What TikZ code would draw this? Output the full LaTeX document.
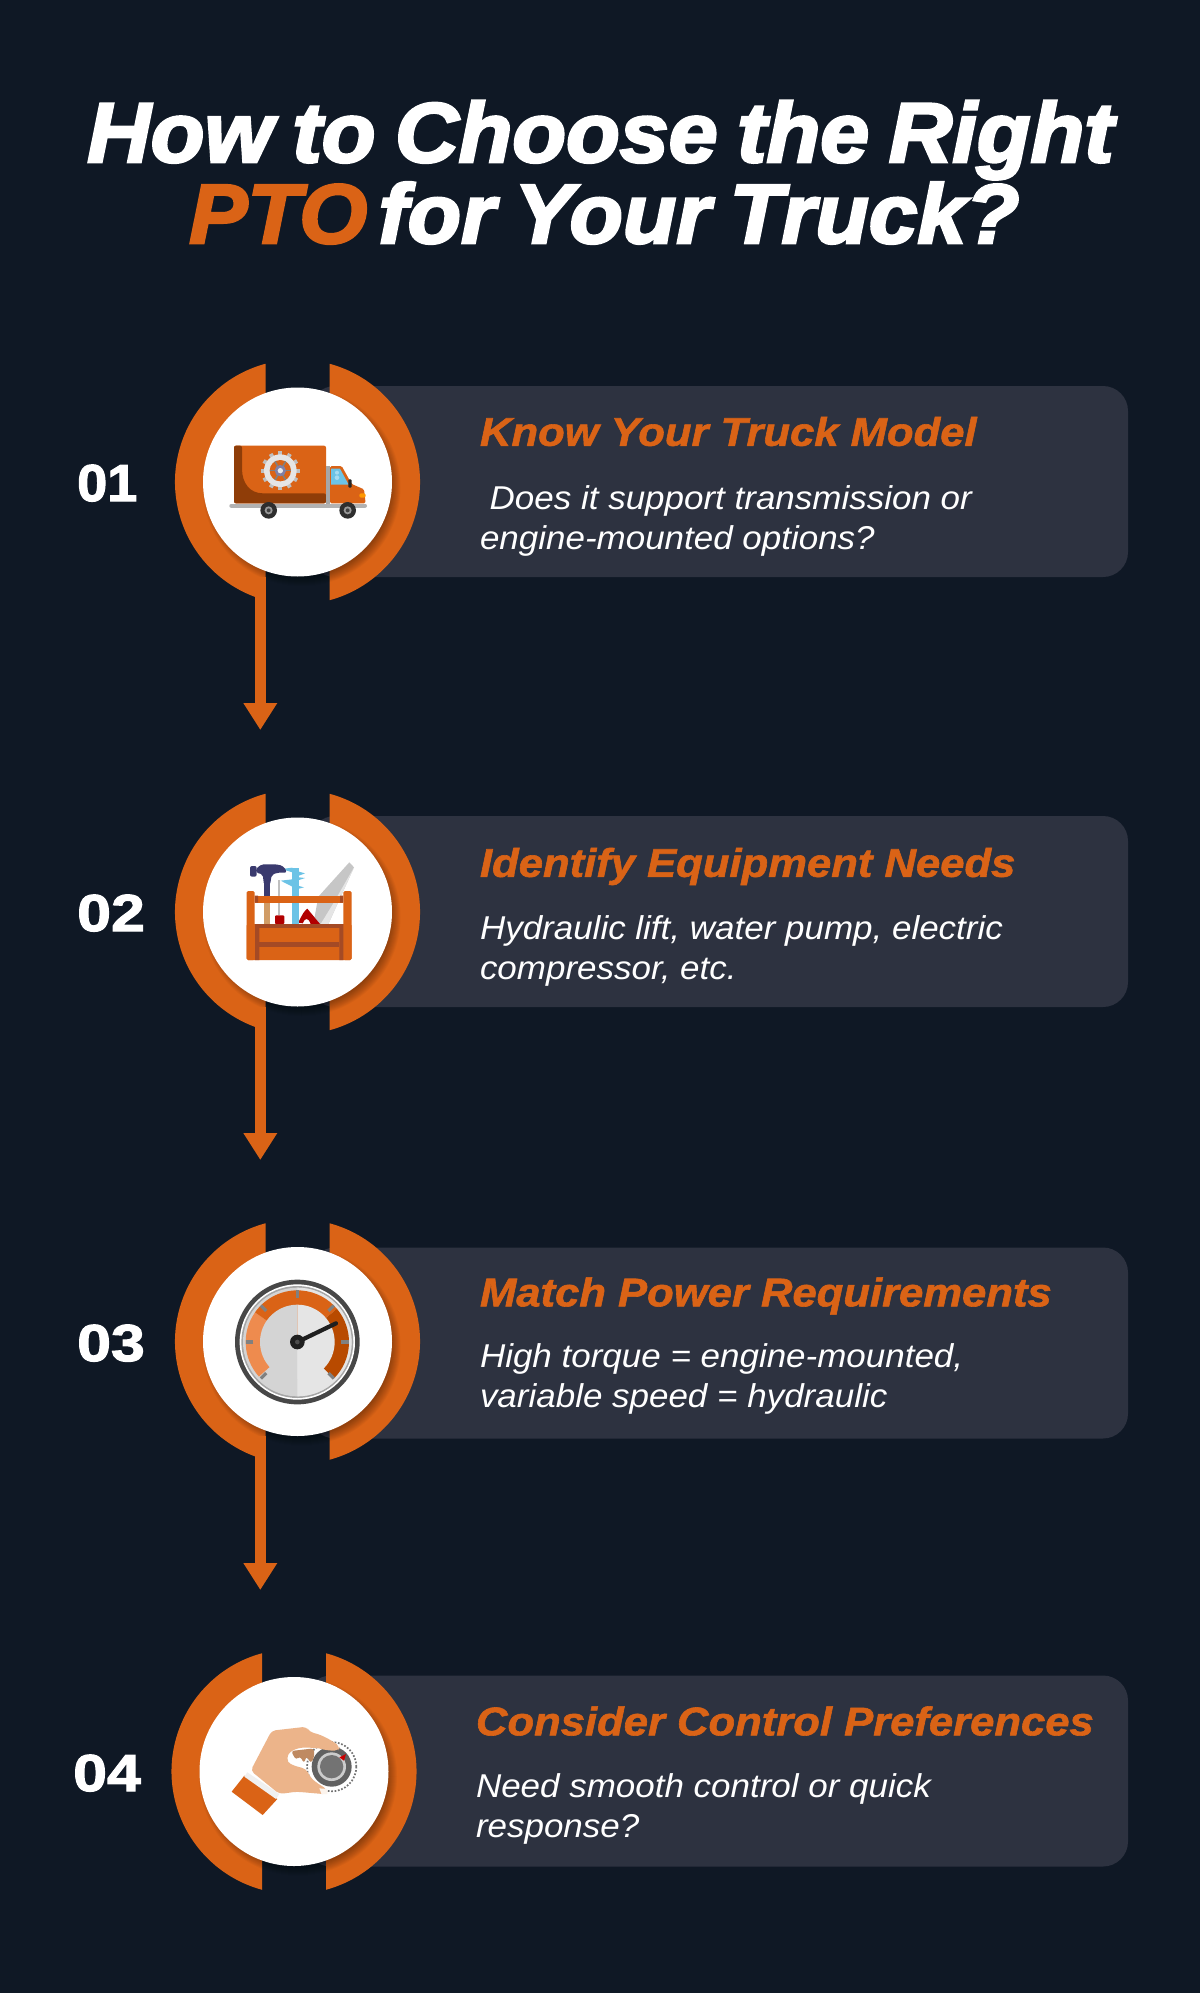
\documentclass[tikz,border=0pt]{standalone}
\usepackage{fontspec}
\setmainfont{Liberation Sans}
\newfontfamily\titlefont[FakeBold=3.2,FakeStretch=1.04,WordSpace=0.8]{Liberation Sans Bold Italic}
\newfontfamily\headfont[FakeBold=1.5,FakeStretch=1.09]{Liberation Sans Bold Italic}
\newfontfamily\bodyfont[FakeStretch=1.06]{Liberation Sans Italic}
\newfontfamily\numfont[FakeBold=2.2,FakeStretch=1.17]{Liberation Sans Bold}
\newfontfamily\numtightfont[FakeBold=2.2,FakeStretch=1.04]{Liberation Sans Bold}
\usetikzlibrary{arrows.meta, positioning}
\definecolor{pagebg}{HTML}{0F1825}
\definecolor{panelbg}{HTML}{2D3240}
\definecolor{ptoorange}{HTML}{DA6316}
\definecolor{darkorange}{HTML}{8F3D08}
\definecolor{gaugedark}{HTML}{B84A00}
\definecolor{gaugelight}{HTML}{EE8B4E}
\definecolor{skin}{HTML}{ECB48A}
\definecolor{skindark}{HTML}{BF8A62}
\definecolor{iconblue}{HTML}{6CC3E6}
\definecolor{iconnavy}{HTML}{3A3A6E}
\definecolor{saw}{HTML}{C6C6C6}
\definecolor{toolbrown}{HTML}{A44A25}
\tikzset{
    titletext/.style={
        anchor=base west,
        inner sep=0pt,
        text=white,
        font=\titlefont\fontsize{84}{84}\selectfont
    },
    titlewide/.style={
        titletext,
        font=\titlefont\fontsize{84.6}{84.6}\selectfont
    },
    steptext/.style={
        anchor=base west,
        inner sep=0pt,
        text=white,
        font=\numfont\fontsize{52}{52}\selectfont
    },
    steptight/.style={
        steptext,
        font=\numtightfont\fontsize{52}{52}\selectfont
    },
    headtext/.style={
        anchor=base west,
        inner sep=0pt,
        text=ptoorange,
        font=\headfont\fontsize{40}{40}\selectfont
    },
    bodytext/.style={
        anchor=base west,
        inner sep=0pt,
        text=white,
        font=\bodyfont\fontsize{33}{33}\selectfont
    },
    panelbox/.style={
        rectangle,
        fill=panelbg,
        rounded corners=25pt,
        minimum width=#1,
        minimum height=191pt,
        inner sep=0pt
    },
    badgecircle/.style={
        circle,
        fill=white,
        minimum size=189pt,
        inner sep=0pt
    },
    flowarrow/.style={
        draw=ptoorange,
        line width=10.7pt,
        -{Triangle[length=27pt,width=32pt,fill=ptoorange]}
    }
}
% orange ring with the two cuts, its shadow and the white disc
\newcommand{\ringbadge}[3]{%
    \begin{scope}[shift={(#2,#3)}]
        \fill [ptoorange] (-32,-118.25) arc[start angle=105.14, end angle=254.86, radius=122.5pt] -- cycle;
        \fill [ptoorange] (32,-118.25) arc[start angle=74.86, end angle=-74.86, radius=122.5pt] -- cycle;
        \foreach \s in {0,...,9} {
            \fill [black, opacity=0.035] (4,5) circle[radius={(90+\s)*1pt}];
        }
        \node (#1) [badgecircle] at (0,0) {};
    \end{scope}%
}

\begin{document}
\begin{tikzpicture}[x=1pt,y=-1pt]
    \useasboundingbox (0,0) rectangle (1200,1993);
    \fill [pagebg] (0,0) rectangle (1200,1993);

    % Title
    \node (titleOne) [titlewide] at (87,162) {How to Choose the Right};
    \node (titleTwo) [titletext] at (189,243) {{\color{ptoorange}PTO}\kern-8pt{} for Your Truck?};

    % Panels
    \node (panelOne) [panelbox=818pt] at (719,481.5) {};
    \node (panelTwo) [panelbox=818pt] at (719,911.5) {};
    \node (panelThree) [panelbox=818pt] at (719,1343) {};
    \node (panelFour) [panelbox=822pt] at (717,1771) {};

    % Rings and discs
    \ringbadge{badgeOne}{297.5}{482}
    \ringbadge{badgeTwo}{297.5}{912}
    \ringbadge{badgeThree}{297.5}{1341.5}
    \ringbadge{badgeFour}{294}{1771.5}

    % Arrows between the steps
    \coordinate (tipOne) at (260.3,730);
    \coordinate (tipTwo) at (260.3,1160);
    \coordinate (tipThree) at (260.3,1590);
    \draw [flowarrow] (badgeOne.south -| tipOne) -- (tipOne);
    \draw [flowarrow] (badgeTwo.south -| tipTwo) -- (tipTwo);
    \draw [flowarrow] (badgeThree.south -| tipThree) -- (tipThree);

    % Step numbers
    \node (numOne) [steptight] at (77,501) {01};
    \node (numTwo) [steptext] at (77,931) {02};
    \node (numThree) [steptext] at (77,1361) {03};
    \node (numFour) [steptext] at (73,1791) {04};

    % Texts of the panels
    \node (headOne) [headtext] at ([xshift=170pt,yshift=-60pt]panelOne.north west) {Know Your Truck Model};
    \node (bodyOneA) [bodytext] at ([xshift=170pt,yshift=-123.5pt]panelOne.north west) {\ Does it support transmission or};
    \node (bodyOneB) [bodytext] at ([xshift=170pt,yshift=-163.5pt]panelOne.north west) {engine-mounted options?};

    \node (headTwo) [headtext] at ([xshift=170pt,yshift=-61pt]panelTwo.north west) {Identify Equipment Needs};
    \node (bodyTwoA) [bodytext] at ([xshift=170pt,yshift=-123.5pt]panelTwo.north west) {Hydraulic lift, water pump, electric};
    \node (bodyTwoB) [bodytext] at ([xshift=170pt,yshift=-163.5pt]panelTwo.north west) {compressor, etc.};

    \node (headThree) [headtext] at ([xshift=170pt,yshift=-59pt]panelThree.north west) {Match Power Requirements};
    \node (bodyThreeA) [bodytext] at ([xshift=170pt,yshift=-120.5pt]panelThree.north west) {High torque = engine-mounted,};
    \node (bodyThreeB) [bodytext] at ([xshift=170pt,yshift=-160.5pt]panelThree.north west) {variable speed = hydraulic};

    \node (headFour) [headtext] at ([xshift=170pt,yshift=-60pt]panelFour.north west) {Consider Control Preferences};
    \node (bodyFourA) [bodytext] at ([xshift=170pt,yshift=-122.5pt]panelFour.north west) {Need smooth control or quick};
    \node (bodyFourB) [bodytext] at ([xshift=170pt,yshift=-162.5pt]panelFour.north west) {response?};

    % Truck icon
    \begin{scope}[shift={(160,350)},scale=1/3]
        \draw [line width=4pt, line cap=round, black!30] (214,467) -- (615,467);
        \fill [ptoorange, rounded corners=2pt] (222,287) rectangle (498,460);
        \fill [darkorange, rounded corners=2pt] (246,287) -- (222,287) -- (222,460) -- (498,460) -- (498,430) -- (315,430) .. controls (270,430) and (246,400) .. (246,350) -- cycle;
        \fill [black!35] (498,348) rectangle (510,462);
        \fill [ptoorange, rounded corners=1.5pt] (510,348) -- (545,348) -- (575,402) -- (612,418) -- (617,460) -- (510,460) -- cycle;
        \fill [iconblue] (513,356) -- (540,356) -- (566,404) -- (513,404) -- cycle;
        \fill [iconblue!60!white] (531,368) circle[radius=6pt] (531,383) circle[radius=7pt];
        \fill [black!85, rounded corners=1pt] (565,388) rectangle (575,413);
        \fill [orange!80!yellow, rounded corners=1.5pt] (598,430) rectangle (617,443);
        \foreach \a in {0,30,...,330} {
            \fill [black!25] (361,362) ++(\a:48) ++(\a+90:6) -- ++(\a:10) -- ++(\a-90:12) -- ++(\a:-10) -- cycle;
        }
        \fill [black!10] (361,362) circle[radius=49pt];
        \fill [ptoorange] (361,362) circle[radius=32pt];
        \foreach \a in {0,60,...,300} {
            \draw [line width=1.6pt, black!50] (361,362) -- ++(\a:32);
        }
        \fill [black!70!blue!50!white] (361,362) circle[radius=17pt];
        \fill [black!8] (361,362) circle[radius=8pt];
        \fill [black!82] (326,481) circle[radius=25pt] (563,481) circle[radius=25pt];
        \fill [black!40] (326,481) circle[radius=12pt] (563,481) circle[radius=12pt];
        \fill [black!75] (326,481) circle[radius=6pt] (563,481) circle[radius=6pt];
    \end{scope}

    % Toolbox icon
    \begin{scope}[shift={(190,830)},scale=1/3]
        \fill [saw] (385,200) -- (478,97) -- (492,112) -- (415,282) -- (370,282) -- cycle;
        \fill [black!10] (392,282) -- (415,282) -- (492,112) -- (430,220) -- cycle;
        \fill [red!70!black] (325,278) .. controls (335,255) and (345,240) .. (352,236) -- (390,282) -- (362,282) .. controls (355,262) and (345,262) .. (338,280) -- cycle;
        \fill [iconblue] (307,113) rectangle (327,282);
        \fill [iconblue] (275,117) -- (307,113) -- (307,127) -- cycle;
        \fill [iconblue] (272,152) -- (307,148) -- (307,170) -- cycle;
        \fill [iconblue] (327,125) -- (345,130) -- (327,137) -- cycle;
        \fill [iconblue] (327,142) -- (345,144) -- (327,150) -- cycle;
        \fill [iconblue] (327,168) -- (342,172) -- (327,176) -- cycle;
        \fill [black!25] (264,150) rectangle (271,256);
        \fill [red!70!black, rounded corners=1pt] (255,256) rectangle (283,282);
        \fill [iconnavy] (222,145) rectangle (240,198);
        \fill [orange!70!black!60!white] (222,220) rectangle (240,282);
        \fill [iconnavy, rounded corners=2pt] (180,108) rectangle (200,140);
        \fill [iconnavy, rounded corners=2pt] (198,116) -- (215,103) -- (255,103) .. controls (275,105) and (285,112) .. (290,128) -- (262,128) -- (245,135) -- (240,165) -- (222,165) -- (218,133) -- (198,128) -- cycle;
        \fill [ptoorange] (194,197) rectangle (460,218);
        \fill [toolbrown] (194,197) rectangle (204,218) (450,197) rectangle (460,218);
        \fill [ptoorange, rounded corners=1.5pt] (170,282) rectangle (485,390);
        \fill [ptoorange, rounded corners=1.5pt] (170,183) rectangle (194,390);
        \fill [ptoorange, rounded corners=1.5pt] (460,183) rectangle (485,390);
        \fill [toolbrown] (195,282) rectangle (208,390) (448,282) rectangle (460,390);
        \fill [toolbrown] (195,282) rectangle (460,294);
        \fill [toolbrown] (208,336) rectangle (448,350);
    \end{scope}

    % Gauge icon
    \begin{scope}[shift={(190,1250)},scale=1/3]
        \fill [black!72] (322,276) circle[radius=187pt];
        \fill [white] (322,276) circle[radius=173pt];
        \fill [black!35] (322,276) circle[radius=168pt];
        \fill [black!17] (322,276) circle[radius=163pt];
        \fill [black!10] (322,113) arc[start angle=90, end angle=-90, radius=163pt] -- cycle;
        \fill [gaugelight] (322,276) ++(222:155pt) arc[start angle=222, end angle=145, radius=155pt] -- (322,276) -- cycle;
        \fill [ptoorange] (322,276) ++(145:155pt) arc[start angle=145, end angle=40, radius=155pt] -- (322,276) -- cycle;
        \fill [gaugedark] (322,276) ++(40:155pt) arc[start angle=40, end angle=-45, radius=155pt] -- (322,276) -- cycle;
        \fill [black!17] (322,276) ++(90:112pt) arc[start angle=90, end angle=270, radius=112pt] -- cycle;
        \fill [black!10] (322,276) ++(90:112pt) arc[start angle=90, end angle=-90, radius=112pt] -- cycle;
        \foreach \a in {90,135,180,225,315,0,45} {
            \draw [black!50, line width=3.2pt] (322,276) ++({cos(\a)*132},{-sin(\a)*132}) -- ++({cos(\a)*23},{-sin(\a)*23});
        }
        \draw [black!88, line width=4.2pt, line cap=round] (322,276) -- (438,220);
        \fill [black!88] (322,276) circle[radius=22pt];
        \fill [black!70] (322,276) circle[radius=7pt];
    \end{scope}

    % Hand on the dial icon
    \begin{scope}[shift={(190,1680)},scale=1/3]
        \draw [black!55, line width=1.7pt, dash pattern=on 1.7pt off 1.7pt] (425,260) circle[radius=74pt];
        \fill [black!62] (425,260) circle[radius=60pt];
        \fill [black!20] (425,260) circle[radius=43pt];
        \fill [black!55] (425,260) circle[radius=35pt];
        \fill [red!80!black] (448,232) -- (468,222) -- (462,242) -- cycle;
        \fill [ptoorange] (163,287) -- (262,357) -- (218,405) -- (125,335) -- cycle;
        \fill [black!6] (172,277) -- (268,342) -- (258,357) -- (163,290) -- cycle;
        \fill [skin, rounded corners=4pt] (182,272) -- (245,152) -- (350,140) -- (358,156) .. controls (400,165) and (430,185) .. (450,200) -- (445,212) .. controls (410,212) and (385,205) .. (375,205) .. controls (340,200) and (305,205) .. (289,235) .. controls (300,255) and (330,262) .. (348,266) -- (360,290) .. controls (375,305) and (395,318) .. (412,328) -- (410,343) -- (320,335) -- (268,342) -- cycle;
        \fill [skindark, rounded corners=3pt] (303,213) -- (372,205) -- (372,235) -- (362,250) -- (350,228) -- (342,250) -- (330,228) -- (318,240) -- cycle;
        \fill [white!85!skin] (388,325) -- (412,327) -- (412,342) -- (395,343) -- cycle;
    \end{scope}
\end{tikzpicture}
\end{document}
